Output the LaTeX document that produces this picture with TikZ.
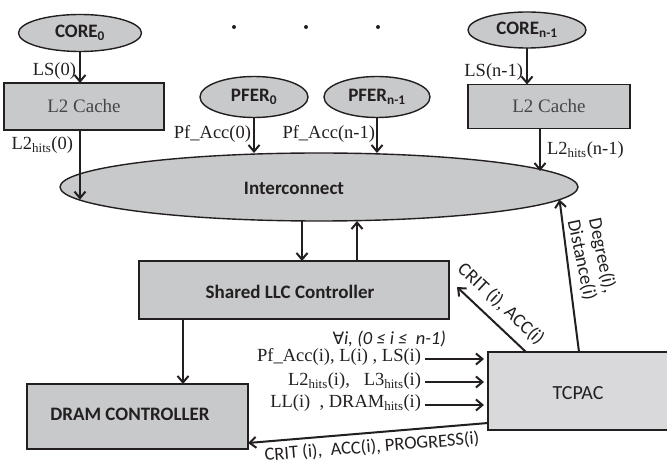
\documentclass[tikz,border=0pt]{standalone}
\usepackage{fontspec}
\setmainfont{Liberation Serif}
\newfontfamily\calfont{Carlito}
\newfontfamily\djvfont{DejaVu Sans}
\usetikzlibrary{shapes.geometric,arrows.meta}
\definecolor{boxgray}{RGB}{200,201,203}
\definecolor{ink}{RGB}{35,31,32}
\definecolor{cachetext}{RGB}{70,70,70}
\begin{document}
\begin{tikzpicture}[x=1pt,y=-1pt,
  every node/.style={inner sep=0pt, outer sep=0pt},
  oval/.style={ellipse, draw=ink, fill=boxgray, line width=1.4pt},
  blk/.style={rectangle, draw=ink, fill=boxgray, line width=1.8pt},
  boldsans/.style={font=\calfont\bfseries\fontsize{19}{22}\selectfont, text=ink},
  sans/.style={font=\calfont\fontsize{19}{21}\selectfont, text=ink},
  lbl/.style={font=\fontsize{18.5}{21}\selectfont, text=ink},
  arr/.style={draw=ink, line width=2pt, -{Straight Barb[length=6.5pt,width=11pt,line width=2pt]}}
]
\useasboundingbox (0,0) rectangle (667,465);

% top row
\node[oval, boldsans, minimum width=123, minimum height=37] (core0) at (80,33) {CORE\textsubscript{0}};
\node[oval, boldsans, minimum width=118, minimum height=36] (coren) at (527,30) {CORE\textsubscript{n-1}};
\fill[ink] (234,27) circle (2);
\fill[ink] (306,27) circle (2);
\fill[ink] (378,27) circle (2);

\node[blk, minimum width=160, minimum height=47, font=\fontsize{19}{22}\selectfont, text=cachetext] (l2a) at (84,106.5) {L2 Cache};
\node[blk, minimum width=162, minimum height=44, font=\fontsize{19}{22}\selectfont, text=cachetext] (l2b) at (549,106.5) {L2 Cache};

\node[oval, boldsans, minimum width=108, minimum height=41] (pf0) at (254,97) {PFER\textsubscript{0}};
\node[oval, boldsans, minimum width=106, minimum height=41] (pfn) at (377,97) {PFER\textsubscript{n-1}};

% interconnect
\node[oval, minimum width=518, minimum height=68] (inter) at (319,187) {};
\node[boldsans] (intertext) at (294,188) {Interconnect};

% LLC
\node[blk, minimum width=310, minimum height=58] (llc) at (294,290) {};
\node[boldsans] (llctext) at (290,292) {Shared LLC Controller};

% DRAM
\node[blk, minimum width=221, minimum height=65] (dram) at (137.5,416.5) {};
\node[boldsans] (dramtext) at (130,414) {DRAM CONTROLLER};

% TCPAC
\node[rectangle, draw=ink, fill=boxgray!70, line width=1.2pt, minimum width=190, minimum height=78] (tcpac) at (583,391) {};
\node[sans, font=\calfont\fontsize{20}{22}\selectfont] (tcpactext) at (578,393) {TCPAC};

% coordinates
\coordinate (xa) at (80,0);
\coordinate (xb) at (540,0);
\coordinate (xdn) at (302,0);
\coordinate (xup) at (357,0);
\coordinate (xd) at (183,0);
\coordinate (critstart) at (526,352);
\coordinate (critend) at (457,287);
\coordinate (degstart) at (579,352);
\coordinate (in1) at (425,359);
\coordinate (in2) at (425,382);
\coordinate (in3) at (425,405);

% arrows top
\draw[arr] (core0.south) -- (core0.south |- l2a.north);
\draw[arr] (coren.south) -- (coren.south |- l2b.north);
\draw[arr] (l2a.south -| xa) -- (inter.183.1 -| xa);
\draw[arr] (l2b.south -| xb) -- (inter.4.5 -| xb);
\draw[arr] (pf0.south) -- (pf0.south |- inter.north);
\draw[arr] (pfn.south) -- (pfn.south |- inter.north);

% interconnect <-> llc
\draw[arr] (inter.south -| xdn) -- (llc.north -| xdn);
\draw[arr] (llc.north -| xup) -- (inter.south -| xup);

% llc -> dram
\draw[arr] (llc.south -| xd) -- (dram.north -| xd);

% tcpac arrows
\draw[arr] (critstart) -- (critend);
\draw[arr] (degstart) -- (inter.-3.3);
\draw[arr, shorten >=4pt] (in1) -- (in1 -| tcpac.west);
\draw[arr, shorten >=4pt] (in2) -- (in2 -| tcpac.west);
\draw[arr, shorten >=4pt] (in3) -- (in3 -| tcpac.west);
\draw[arr] ([yshift=7pt]tcpac.south west) -- ([yshift=6pt]dram.south east);

% labels
\node[lbl, anchor=east] (lls0) at (76,71) {LS(0)};
\node[lbl, anchor=east] (llsn) at (523,72) {LS(n-1)};
\node[lbl, anchor=east] (lh0) at (73,145) {L2\textsubscript{hits}(0)};
\node[lbl, anchor=west] (lhn) at (547,150) {L2\textsubscript{hits}(n-1)};
\node[lbl, anchor=east] (lpf0) at (251,134) {Pf\_Acc(0)};
\node[lbl, anchor=east] (lpfn) at (375,134) {Pf\_Acc(n-1)};

\node[font=\calfont\itshape\fontsize{18.5}{21}\selectfont, text=ink, anchor=east] (forall) at (446,339) {{\djvfont\itshape\fontsize{17}{20}\selectfont ∀}i, (0 ≤ i ≤~ n-1)};
\node[lbl, anchor=east] (lin1) at (421,357) {Pf\_Acc(i), L(i) , LS(i)};
\node[lbl, anchor=east] (lin2) at (421,381) {L2\textsubscript{hits}(i),~~ L3\textsubscript{hits}(i)};
\node[lbl, anchor=east] (lin3) at (421,403) {LL(i) ~, DRAM\textsubscript{hits}(i)};

\node[sans, rotate=-43] (lcrit) at (501,304) {CRIT (i), ACC(i)};
\node[sans, rotate=-78, align=center] (ldeg) at (592,258) {Degree(i),\\Distance(i)};
\node[sans, font=\calfont\fontsize{18.5}{21}\selectfont, rotate=4.5] (lbot) at (372,447) {CRIT (i),~ ACC(i), PROGRESS(i)};
\end{tikzpicture}
\end{document}
